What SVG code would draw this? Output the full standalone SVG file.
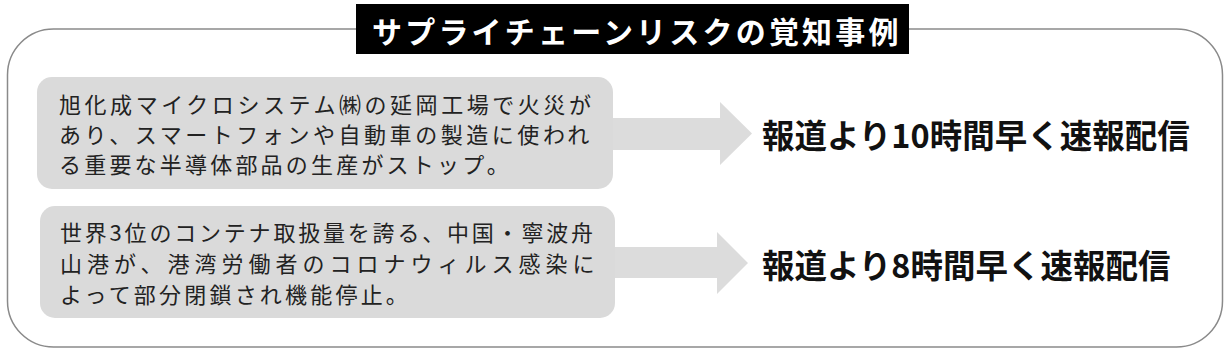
<svg xmlns="http://www.w3.org/2000/svg" width="1230" height="358" viewBox="0 0 1230 358">
<style>
.frame{fill:#fff;stroke:#8a8a8a;stroke-width:1.5}
.box{fill:#dadada}
.arrow{fill:#dcdcdc}
.body{font-family:"Noto Sans CJK JP","Noto Sans",sans-serif;font-size:22px;fill:#222;dominant-baseline:central}
.result{font-family:"Noto Sans CJK JP","Noto Sans",sans-serif;font-size:32.5px;font-weight:bold;fill:#111;dominant-baseline:central}
.title{font-family:"Noto Sans CJK JP","Noto Sans",sans-serif;font-size:30px;font-weight:bold;fill:#fff;dominant-baseline:central;letter-spacing:3.2px}
</style>
<rect width="1230" height="358" fill="#fff"/>
<rect class="frame" x="7.5" y="29" width="1215" height="318" rx="46" ry="46"/>
<g id="title">
<rect x="356" y="4" width="553" height="50" fill="#000"/>
<text class="title" x="372" y="30">サプライチェーンリスクの覚知事例</text>
</g>
<g id="connectors">
<polygon class="arrow" points="612,118 720,118 720,102 752,133.5 720,165 720,150 612,150"/>
<polygon class="arrow" points="614,247 717,247 717,232 748,263 717,294 717,278 614,278"/>
</g>
<g id="case1">
<rect class="box" x="37" y="77" width="576" height="112" rx="15" ry="15"/>
<text class="body" x="59" y="103" letter-spacing="3.55">旭化成マイクロシステム㈱の延岡工場で火災が</text>
<text class="body" x="59" y="133" letter-spacing="3.55">あり、スマートフォンや自動車の製造に使われ</text>
<text class="body" x="59" y="163" letter-spacing="3.2">る重要な半導体部品の生産がストップ。</text>
</g>
<g id="case2">
<rect class="box" x="40" y="206" width="575" height="112" rx="15" ry="15"/>
<text class="body" x="60" y="231" letter-spacing="2.8">世界3位のコンテナ取扱量を誇る、中国・寧波舟</text>
<text class="body" x="60" y="262" letter-spacing="5">山港が、港湾労働者のコロナウィルス感染に</text>
<text class="body" x="60" y="293" letter-spacing="3.2">よって部分閉鎖され機能停止。</text>
</g>
<g id="result1">
<text class="result" x="762" y="133">報道より10時間早く速報配信</text>
</g>
<g id="result2">
<text class="result" x="762" y="263">報道より8時間早く速報配信</text>
</g>
</svg>
